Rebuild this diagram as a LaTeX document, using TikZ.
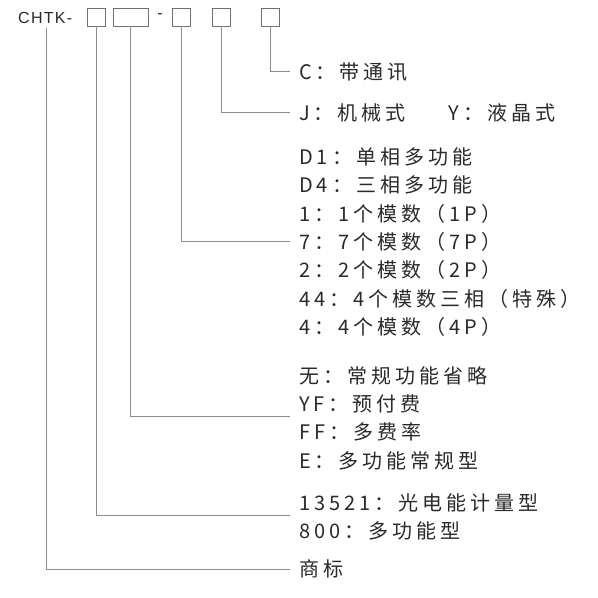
\documentclass[tikz,border=0pt]{standalone}
\usepackage{fontspec}
\newfontfamily\cjk[LetterSpace=20]{Noto Sans CJK SC}
\newfontfamily\lat[LetterSpace=8]{Liberation Sans}
\definecolor{ln}{HTML}{8C8C8C}
\definecolor{bx}{HTML}{707070}
\definecolor{tx}{HTML}{2A2A2A}
\tikzset{
  cell/.style={draw=bx, line width=0.9pt, minimum height=18pt, inner sep=0pt},
  conn/.style={draw=ln, line width=0.9pt},
  grp/.style={anchor=west, inner sep=0pt, align=left, text=tx, font=\cjk\fontsize{20}{28.3}\selectfont},
  head/.style={inner sep=0pt, text=tx, font=\lat\fontsize{16}{16}\selectfont}
}
\begin{document}
\begin{tikzpicture}[x=1pt,y=-1pt]
\useasboundingbox[fill=white] (0,0) rectangle (598,598);
% header
\node[head, anchor=base west] (brand) at (18,23) {CHTK-};
\node[cell, minimum width=18pt] (b1) at (96,17) {};
\node[cell, minimum width=35pt] (b2) at (130.6,17) {};
\node[head] (dash) at (160,16.5) {-};
\node[cell, minimum width=18pt] (b3) at (181.6,17) {};
\node[cell, minimum width=18pt] (b4) at (221.2,17) {};
\node[cell, minimum width=18pt] (b5) at (270.2,17) {};
\coordinate (c0) at (46,28);
% texts
\node[grp] (gC) at (299,72) {C：带通讯};
\node[grp] (gJ) at (299,113) {J：机械式\hspace{43pt}Y：液晶式};
\node[grp] (gD) at (299,242) {D1：单相多功能\\D4：三相多功能\\1：1个模数（1P）\\7：7个模数（7P）\\2：2个模数（2P）\\44：4个模数三相（特殊）\\4：4个模数（4P）};
\node[grp] (gE) at (299,418) {无：常规功能省略\\YF：预付费\\FF：多费率\\E：多功能常规型};
\node[grp] (gM) at (299,517) {13521：光电能计量型\\800：多功能型};
\node[grp] (gS) at (299,569) {商标};
% connectors
\draw[conn] (b5.south) |- ([xshift=-9pt,yshift=1pt]gC.west);
\draw[conn] (b4.south) |- ([xshift=-9pt,yshift=1pt]gJ.west);
\draw[conn] (b3.south) |- ([xshift=-9pt,yshift=1pt]gD.west);
\draw[conn] (b2.south) |- ([xshift=-9pt,yshift=1.5pt]gE.west);
\draw[conn] (b1.south) |- ([xshift=-9pt,yshift=2pt]gM.west);
\draw[conn] (c0) |- ([xshift=-9pt]gS.west);
\end{tikzpicture}
\end{document}
